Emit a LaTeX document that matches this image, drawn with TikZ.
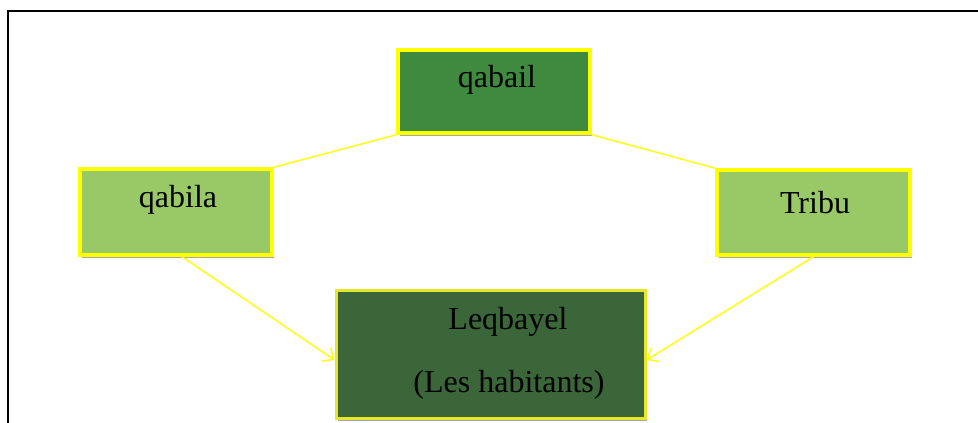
\documentclass[tikz,border=0pt]{standalone}
\usepackage{fontspec}
\setmainfont{Liberation Serif}
\usetikzlibrary{arrows.meta,shadows}
\definecolor{darkgreen}{HTML}{3F8A3F}
\definecolor{lightgreen}{HTML}{99C966}
\definecolor{deepgreen}{HTML}{3A663A}
\definecolor{edgeyellow}{HTML}{FFFF00}
\definecolor{oliveyellow}{HTML}{E6E62A}
\tikzset{
  box/.style={draw=edgeyellow, line width=3.5pt, inner sep=0pt,
    drop shadow={shadow xshift=2pt, shadow yshift=-3pt, fill=black, opacity=0.35}},
  lbl/.style={font=\fontsize{32}{35}\selectfont, text=black, inner sep=0pt},
  link/.style={draw=edgeyellow, line width=1.4pt},
  arr/.style={link, -{Straight Barb[length=9pt,width=16pt,line width=1.4pt]}}
}
\begin{document}
\begin{tikzpicture}[x=1pt,y=-1pt]
\useasboundingbox (0,0) rectangle (978,423);
\draw[line width=2pt] (8,423) -- (8,11) -- (979,11);
\node[box, fill=darkgreen, minimum width=192pt, minimum height=83pt] (qabail) at (494,91.5) {};
\node[box, fill=lightgreen, minimum width=192pt, minimum height=86pt] (qabila) at (176,212) {};
\node[box, fill=lightgreen, minimum width=193pt, minimum height=85pt] (tribu) at (813.5,212.5) {};
\node[box, draw=oliveyellow, line width=3pt, fill=deepgreen, minimum width=309pt, minimum height=128pt] (leq) at (490.5,354) {};
\node[lbl] (t1) at (497,80) {qabail};
\node[lbl] (t2) at (178,200) {qabila};
\node[lbl] (t3) at (815,203) {Tribu};
\node[lbl] (t4) at (508,322) {Leqbayel};
\node[lbl] (t5) at (509,385) {(Les habitants)};
\draw[link] (qabail.south west) -- (qabila.north east);
\draw[link] (qabail.south east) -- (tribu.north west);
\draw[arr] ([xshift=6pt]qabila.south) -- ([yshift=-6pt]leq.west);
\draw[arr] ([xshift=0pt]tribu.south) -- ([yshift=-6pt]leq.east);
\end{tikzpicture}
\end{document}
